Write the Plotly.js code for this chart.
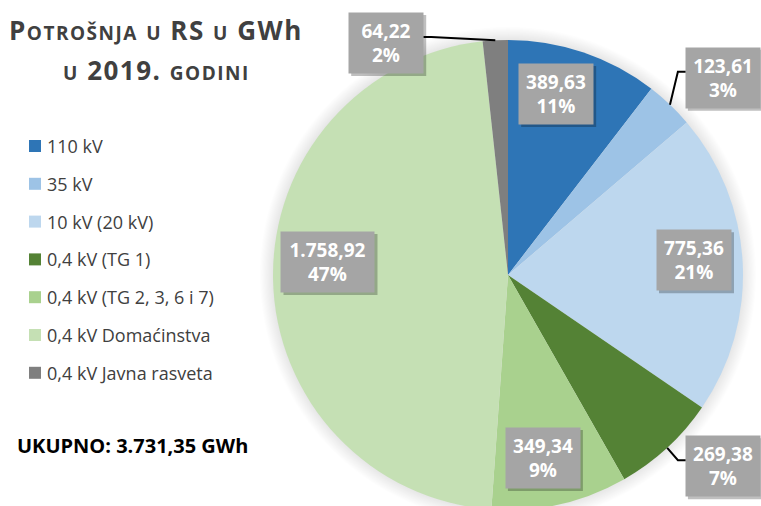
<!DOCTYPE html>
<html>
<head>
<meta charset="utf-8">
<script src="https://cdn.plot.ly/plotly-3.0.1.min.js"></script>
<style>
html,body{margin:0;padding:0;overflow:hidden;background:#fff;width:761px;height:506px;}
#chart{width:761px;height:510px;}
</style>
</head>
<body>
<div id="chart"></div>
<script>
// ---- data ----
const categories = ['110 kV','35 kV','10 kV (20 kV)','0,4 kV (TG 1)','0,4 kV (TG 2, 3, 6 i 7)','0,4 kV Domaćinstva','0,4 kV Javna rasveta'];
const values = [389.63, 123.61, 775.36, 269.38, 349.34, 1758.92, 64.22];
const percentLabels = ['11%','3%','21%','7%','9%','47%','2%'];
const totalText = 'UKUPNO: 3.731,35 GWh';

// ---- style ----
const colors = ['#2E75B6','#9DC3E6','#BDD7EE','#548235','#A9D18E','#C5E0B4','#7F7F7F'];
// label placement: r = fraction of radius, da = angle shift (deg), out = leader line
const placement = [
  {r:0.797, da:-3.9},
  {r:1.241, da:3.9, out:true},
  {r:0.794, da:-1.5},
  {r:1.224, da:-5.7, out:true},
  {r:0.793, da:2.0},
  {r:0.768, da:5.2},
  {r:1.115, da:-24.6, out:true}
];

const W = 761, H = 510;
const CX = 508, CY = 275, R = 235;
const px = x => x / W;
const py = y => 1 - y / H;

function fmt(v){
  const parts = v.toFixed(2).split('.');
  const intp = parts[0].replace(/\B(?=(\d{3})+(?!\d))/g, '.');
  return intp + ',' + parts[1];
}

const total = values.reduce((a,b)=>a+b,0);
const FONT = '"Open Sans", "Noto Sans", sans-serif';

const trace = {
  type:'pie',
  values: values,
  labels: categories,
  marker:{colors: colors, line:{width:0}},
  sort:false,
  direction:'clockwise',
  rotation:0,
  textinfo:'none',
  hoverinfo:'none',
  showlegend:false,
  domain:{x:[px(CX-R-5), px(CX+R+5)], y:[0, py(CY-R)]}
};

const shapes = [];
const annotations = [];

// soft shadow rings behind pie
for (let i=1;i<=12;i++){
  shapes.push({type:'circle', xref:'paper', yref:'paper', layer:'below',
    x0:px(CX-R-i*1.1), x1:px(CX+R+i*1.1), y0:py(CY+R+i*1.1), y1:py(CY-R-i*1.1),
    fillcolor:'rgba(0,0,0,0.008)', line:{width:0}});
}

// data labels
let cum = 0;
values.forEach((v,i)=>{
  const mid = (cum + v/2) / total * 360;
  cum += v;
  const p = placement[i];
  const a = (mid + p.da) * Math.PI/180;
  const bx = CX + R*p.r*Math.sin(a);
  const by = CY - R*p.r*Math.cos(a);
  const vt = fmt(v);
  const bw = vt.length > 6 ? 93 : 74, bh = 60;
  // shadow
  shapes.push({type:'rect', xref:'paper', yref:'paper', layer:'above',
    x0:px(bx-bw/2+2), x1:px(bx+bw/2+3), y0:py(by+bh/2+3), y1:py(by-bh/2+2),
    fillcolor:'rgba(0,0,0,0.25)', line:{width:0}});
  annotations.push({xref:'paper', yref:'paper', x:px(bx), y:py(by),
    xanchor:'center', yanchor:'middle', showarrow:false,
    width:bw, height:bh, bgcolor:'#A5A5A5', borderpad:0,
    text:'<b>'+vt+'</b><br><b>'+percentLabels[i]+'</b>',
    font:{family:FONT, size:19, color:'#FFFFFF'}});
  if (p.out){
    const ma = mid*Math.PI/180;
    const ex = CX + R*Math.sin(ma), ey = CY - R*Math.cos(ma);
    const right = bx > CX;
    const sx = right ? bx - bw/2 : bx + bw/2;
    const sy = by - 6;
    const kx = right ? sx - 8 : sx + 8;
    shapes.push({type:'path', xref:'paper', yref:'paper', layer:'above',
      path:`M${px(sx)},${py(sy)} L${px(kx)},${py(sy)} L${px(ex)},${py(ey)}`,
      line:{color:'#000000', width:2}});
  }
});

// manual legend
const legTop = 146, legStep = 37.8;
categories.forEach((c,i)=>{
  const y = legTop + i*legStep;
  shapes.push({type:'rect', xref:'paper', yref:'paper', layer:'above',
    x0:px(29), x1:px(41), y0:py(y+6), y1:py(y-6),
    fillcolor:colors[i], line:{width:0}});
  annotations.push({xref:'paper', yref:'paper', x:px(45), y:py(y),
    xanchor:'left', yanchor:'middle', showarrow:false,
    text:c, font:{family:FONT, size:18, color:'#404040'}});
});

// title (small caps emulated, slightly widened letter spacing)
const sc = s => '<span style="font-size:19px">'+s+'</span>';
const ls = s => '<span style="letter-spacing:1.5px">'+s+'</span>';
annotations.push({xref:'paper', yref:'paper', x:px(156), y:py(30),
  xanchor:'center', yanchor:'middle', showarrow:false,
  text:ls('<b>P'+sc('OTROŠNJA')+' '+sc('U')+' RS '+sc('U')+' GWh</b>'),
  font:{family:FONT, size:26, color:'#404040'}});
annotations.push({xref:'paper', yref:'paper', x:px(156), y:py(70),
  xanchor:'center', yanchor:'middle', showarrow:false,
  text:ls('<b>'+sc('U')+' 2019. '+sc('GODINI')+'</b>'),
  font:{family:FONT, size:26, color:'#404040'}});

// total
annotations.push({xref:'paper', yref:'paper', x:px(15), y:py(445),
  xanchor:'left', yanchor:'middle', showarrow:false,
  text:'<b>'+totalText+'</b>',
  font:{family:FONT, size:20, color:'#000000'}});

const layout = {
  width:W, height:H,
  margin:{l:0,r:0,t:0,b:0},
  paper_bgcolor:'#FFFFFF',
  showlegend:false,
  shapes:shapes,
  annotations:annotations
};

Plotly.newPlot('chart', [trace], layout, {staticPlot:true, displayModeBar:false});
</script>
</body>
</html>
